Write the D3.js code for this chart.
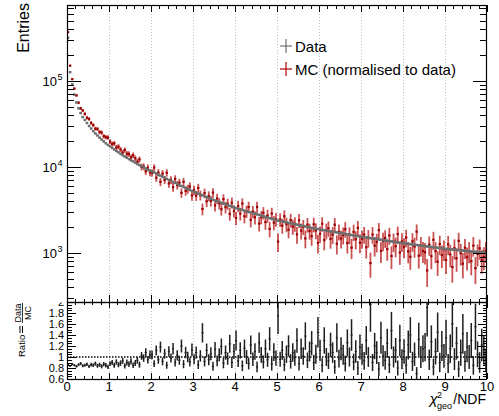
<!DOCTYPE html>
<html>
<head>
<meta charset="utf-8">
<script src="https://cdn.jsdelivr.net/npm/d3@7"></script>
<style>
  body { margin: 0; background: #fff; }
  text { font-family: "Liberation Sans", Arial, sans-serif; fill: #000; }
</style>
</head>
<body>
<svg id="chart" width="499" height="416"></svg>
<script>
// histogram range (chi2_geo/NDF), equal width bins
const binLow = 0;
const binHigh = 10;

// data entries per bin
const dataCounts = [
  316000, 126000, 91200, 69200, 56200, 47900, 42200, 38000, 35100, 32400,
  29900, 27900, 26000, 24500, 23200, 21900, 20800, 19800, 18800, 18000,
  17300, 16600, 15960, 15300, 14800, 14200, 13700, 13200, 12800, 12300,
  11900, 11600, 11200, 10800, 10500, 10200, 9900, 9600, 9300, 9000,
  8890, 8650, 8390, 8170, 7930, 7710, 7500, 7280, 7080, 6890,
  6700, 6520, 6340, 6170, 6010, 5850, 5690, 5550, 5400, 5260,
  5130, 5010, 4900, 4790, 4680, 4570, 4470, 4370, 4270, 4170,
  4080, 4000, 3920, 3840, 3760, 3680, 3610, 3530, 3460, 3390,
  3320, 3270, 3210, 3160, 3100, 3050, 3010, 2960, 2900, 2860,
  2810, 2770, 2720, 2670, 2630, 2590, 2540, 2500, 2460, 2420,
  2380, 2355, 2330, 2300, 2270, 2240, 2220, 2190, 2160, 2140,
  2110, 2090, 2060, 2040, 2010, 1990, 1960, 1940, 1920, 1900,
  1875, 1858, 1837, 1820, 1803, 1786, 1766, 1750, 1734, 1718,
  1698, 1683, 1667, 1652, 1633, 1618, 1603, 1589, 1570, 1556,
  1542, 1528, 1517, 1503, 1489, 1476, 1466, 1452, 1439, 1426,
  1413, 1403, 1390, 1377, 1365, 1355, 1343, 1330, 1318, 1309,
  1297, 1288, 1279, 1268, 1259, 1250, 1242, 1230, 1222, 1213,
  1205, 1194, 1186, 1178, 1169, 1159, 1151, 1143, 1135, 1127,
  1119, 1112, 1107, 1099, 1094, 1086, 1081, 1074, 1069, 1062,
  1057, 1050, 1045, 1038, 1033, 1026, 1021, 1014, 1009, 1002
];

// Data/MC per bin (MC = data / ratio)
const ratioValues = [
  0.86, 0.84, 0.87, 0.85, 0.83, 0.86, 0.88, 0.84, 0.85, 0.87,
  0.83, 0.86, 0.85, 0.88, 0.84, 0.86, 0.83, 0.87, 0.85, 0.82,
  0.88, 0.90, 0.85, 0.91, 0.86, 0.89, 0.93, 0.84, 0.90, 0.87,
  0.92, 0.85, 0.89, 0.94, 0.86, 1.02, 0.98, 1.08, 0.95, 1.04,
  1.04, 0.88, 1.12, 0.95, 1.18, 0.92, 1.06, 0.85, 1.10, 0.98,
  1.15, 0.90, 1.03, 0.94, 1.20, 0.87, 1.08, 1.00, 0.91, 1.13,
  0.96, 1.08, 0.86, 1.02, 1.44, 0.92, 1.12, 0.95, 1.06, 0.83,
  1.14, 0.93, 1.04, 1.19, 0.89, 1.08, 0.97, 1.24, 0.90, 1.10,
  1.30, 0.93, 1.12, 0.84, 1.16, 1.00, 0.88, 1.22, 0.96, 1.10,
  0.82, 1.26, 1.04, 0.91, 1.15, 0.95, 1.33, 0.87, 1.09, 0.98,
  1.75, 0.96, 1.12, 0.86, 1.05, 1.20, 0.92, 1.08, 0.99, 1.30,
  0.88, 1.15, 1.02, 1.38, 0.94, 1.10, 1.25, 0.90, 1.05, 1.45,
  1.12, 0.85, 1.30, 1.00, 0.93, 1.22, 1.08, 0.82, 1.35, 0.97,
  1.15, 1.04, 0.88, 1.26, 1.00, 1.40, 0.91, 1.10, 0.80, 1.18,
  1.05, 0.93, 1.30, 1.00, 1.95, 0.90, 1.20, 1.08, 0.78, 1.35,
  1.02, 0.94, 1.25, 0.86, 1.48, 1.00, 1.12, 0.80, 1.30, 0.96,
  1.10, 0.85, 1.22, 1.40, 0.92, 1.05, 0.70, 1.32, 1.00, 1.15,
  1.18, 1.90, 0.95, 1.28, 0.82, 1.10, 1.45, 0.90, 1.20, 1.02,
  1.35, 0.88, 1.15, 1.60, 0.96, 1.25, 0.78, 1.08, 1.42, 0.92,
  1.18, 1.00, 1.30, 0.85, 1.55, 1.05, 0.90, 1.22, 1.12, 0.95
];

// MC events are weighted: error = sqrt(weight * content)
const mcWeight = 80;

const xTickValues = [0, 1, 2, 3, 4, 5, 6, 7, 8, 9, 10];
const yDecades = [1e3, 1e4, 1e5];
const ratioTickValues = [0.6, 0.8, 1, 1.2, 1.4, 1.6, 1.8, 2];
const legendLabels = ["Data", "MC (normalised to data)"];

const dataColor = "#6e6e6e";
const mcColor = "#9a0000";
const mcErrColor = "rgba(175, 0, 0, 0.68)";

// pad geometry
const left = 67, right = 487;
const mainTop = 5, split = 302, ratioBottom = 379;

const svg = d3.select("#chart");

const x = d3.scaleLinear().domain([binLow, binHigh]).range([left, right]);
const yMain = d3.scaleLog().domain([270, 760000]).range([split, mainTop]);
const yRatio = d3.scaleLinear().domain([0.6, 2.0]).range([ratioBottom, split]);

const binWidth = (binHigh - binLow) / dataCounts.length;
const bins = dataCounts.map((d, i) => {
  const lo = binLow + i * binWidth;
  const r = ratioValues[i];
  const mc = d / r;
  return {
    lo: lo, hi: lo + binWidth, mid: lo + binWidth / 2,
    data: d, dataErr: Math.sqrt(d),
    mc: mc, mcErr: Math.sqrt(mc * mcWeight),
    ratio: r, ratioErr: r * Math.sqrt(1 / d + 0.6 * mcWeight / mc)
  };
});

// clip paths for both pads
const defs = svg.append("defs");
defs.append("clipPath").attr("id", "clip-main")
  .append("rect").attr("x", left).attr("y", mainTop)
  .attr("width", right - left).attr("height", split - mainTop);
defs.append("clipPath").attr("id", "clip-ratio")
  .append("rect").attr("x", left).attr("y", split)
  .attr("width", right - left).attr("height", ratioBottom - split);
defs.append("clipPath").attr("id", "clip-ratio-labels")
  .append("rect").attr("x", 0).attr("y", split + 0.5)
  .attr("width", left).attr("height", 120);

// dotted vertical grid at integer x
const gridX = xTickValues.filter(v => v > binLow && v < binHigh);
svg.append("g").selectAll("line").data(gridX).enter().append("line")
  .attr("x1", d => Math.round(x(d)) + 0.5).attr("x2", d => Math.round(x(d)) + 0.5)
  .attr("y1", mainTop).attr("y2", ratioBottom)
  .attr("stroke", "#bdbdbd").attr("stroke-width", 1)
  .attr("stroke-dasharray", "1,2");

/* ---------------- main pad ---------------- */
const main = svg.append("g").attr("clip-path", "url(#clip-main)");

// MC first, data drawn on top
const mcG = main.append("g");
mcG.selectAll("line.err").data(bins).enter().append("line")
  .attr("class", "err")
  .attr("x1", d => x(d.mid)).attr("x2", d => x(d.mid))
  .attr("y1", d => yMain(Math.max(d.mc - d.mcErr, 1)))
  .attr("y2", d => yMain(d.mc + d.mcErr))
  .attr("stroke", mcErrColor).attr("stroke-width", 1.8);
mcG.selectAll("line.bin").data(bins).enter().append("line")
  .attr("class", "bin")
  .attr("x1", d => x(d.lo)).attr("x2", d => x(d.hi))
  .attr("y1", d => yMain(d.mc)).attr("y2", d => yMain(d.mc))
  .attr("stroke", mcErrColor).attr("stroke-width", 1);
mcG.selectAll("rect").data(bins).enter().append("rect")
  .attr("x", d => x(d.mid) - 1.1).attr("y", d => yMain(d.mc) - 1.1)
  .attr("width", 2.2).attr("height", 2.2)
  .attr("fill", mcColor);

const dataG = main.append("g");
dataG.selectAll("line.err").data(bins).enter().append("line")
  .attr("class", "err")
  .attr("x1", d => x(d.mid)).attr("x2", d => x(d.mid))
  .attr("y1", d => yMain(d.data - d.dataErr))
  .attr("y2", d => yMain(d.data + d.dataErr))
  .attr("stroke", dataColor).attr("stroke-width", 1);
dataG.selectAll("line.bin").data(bins).enter().append("line")
  .attr("class", "bin")
  .attr("x1", d => x(d.lo)).attr("x2", d => x(d.hi))
  .attr("y1", d => yMain(d.data)).attr("y2", d => yMain(d.data))
  .attr("stroke", dataColor).attr("stroke-width", 1.6);
dataG.selectAll("rect").data(bins).enter().append("rect")
  .attr("x", d => x(d.mid) - 1.25).attr("y", d => yMain(d.data) - 1.25)
  .attr("width", 2.5).attr("height", 2.5)
  .attr("fill", dataColor);

/* ---------------- ratio pad ---------------- */
const ratio = svg.append("g").attr("clip-path", "url(#clip-ratio)");

ratio.append("line")
  .attr("x1", left).attr("x2", right)
  .attr("y1", yRatio(1)).attr("y2", yRatio(1))
  .attr("stroke", "#000").attr("stroke-width", 1.3)
  .attr("stroke-dasharray", "1.5,1.5");

ratio.selectAll("line.err").data(bins).enter().append("line")
  .attr("class", "err")
  .attr("x1", d => x(d.mid)).attr("x2", d => x(d.mid))
  .attr("y1", d => yRatio(d.ratio - d.ratioErr))
  .attr("y2", d => yRatio(d.ratio + d.ratioErr))
  .attr("stroke", "#1e1e1e").attr("stroke-width", 1.5);
ratio.selectAll("line.bin").data(bins).enter().append("line")
  .attr("class", "bin")
  .attr("x1", d => x(d.lo)).attr("x2", d => x(d.hi))
  .attr("y1", d => yRatio(d.ratio)).attr("y2", d => yRatio(d.ratio))
  .attr("stroke", "#1e1e1e").attr("stroke-width", 1.2);

/* ---------------- axes (ticks inside, on all sides) ---------------- */
function plain(g) {
  g.select(".domain").remove();
  g.selectAll(".tick line").attr("stroke", "#000").attr("shape-rendering", "crispEdges");
  g.selectAll(".tick text").remove();
}

const xMinor = d3.range(binLow, binHigh + 1e-9, 0.2).filter(v => Math.abs(v - Math.round(v)) > 1e-6);
const yMinor = yMain.ticks().filter(v => !yDecades.includes(v));
const ratioMinor = d3.range(0.6, 2.0001, 0.05).filter(v => !ratioTickValues.some(t => Math.abs(t - v) < 1e-6));

function xTicksAt(yPos, dir, major, minor) {
  // negative tick size points the ticks into the pad
  const mk = dir === "top" ? d3.axisTop : d3.axisBottom;
  svg.append("g").attr("transform", `translate(0,${yPos})`)
    .call(mk(x).tickValues(xTickValues).tickSize(-major).tickSizeOuter(0)).call(plain);
  svg.append("g").attr("transform", `translate(0,${yPos})`)
    .call(mk(x).tickValues(xMinor).tickSize(-minor).tickSizeOuter(0)).call(plain);
}
xTicksAt(mainTop, "top", 7, 3.5);
xTicksAt(split, "bottom", 7, 3.5);
xTicksAt(split, "top", 6, 3);
xTicksAt(ratioBottom, "bottom", 6, 3);

function yTicksAt(scale, xPos, dir, majorVals, minorVals, major, minor) {
  const mk = dir === "left" ? d3.axisLeft : d3.axisRight;
  svg.append("g").attr("transform", `translate(${xPos},0)`)
    .call(mk(scale).tickValues(majorVals).tickSize(-major).tickSizeOuter(0)).call(plain);
  svg.append("g").attr("transform", `translate(${xPos},0)`)
    .call(mk(scale).tickValues(minorVals).tickSize(-minor).tickSizeOuter(0)).call(plain);
}
yTicksAt(yMain, left, "left", yDecades, yMinor, 14, 7);
yTicksAt(yMain, right, "right", yDecades, yMinor, 14, 7);
yTicksAt(yRatio, left, "left", ratioTickValues, ratioMinor, 9, 4.5);
yTicksAt(yRatio, right, "right", ratioTickValues, ratioMinor, 9, 4.5);

// pad frames
svg.append("rect")
  .attr("x", left + 0.5).attr("y", mainTop + 0.5)
  .attr("width", right - left - 1).attr("height", split - mainTop)
  .attr("fill", "none").attr("stroke", "#000").attr("stroke-width", 1.2);
svg.append("rect")
  .attr("x", left + 0.5).attr("y", split + 0.5)
  .attr("width", right - left - 1).attr("height", ratioBottom - split)
  .attr("fill", "none").attr("stroke", "#000").attr("stroke-width", 1.2);

/* ---------------- labels ---------------- */
// log axis labels 10^n
svg.append("g").selectAll("text").data(yDecades).enter().append("text")
  .attr("x", 57).attr("y", d => yMain(d) + 5)
  .attr("text-anchor", "end").attr("font-size", 13)
  .text("10");
svg.append("g").selectAll("text").data(yDecades).enter().append("text")
  .attr("x", 57.5).attr("y", d => yMain(d) - 1)
  .attr("font-size", 9)
  .text(d => Math.round(Math.log10(d)));

svg.append("text")
  .attr("transform", "translate(29,3) rotate(-90)")
  .attr("text-anchor", "end").attr("font-size", 16)
  .text("Entries");

// ratio axis labels (top one is partly hidden by the upper pad)
svg.append("g").attr("clip-path", "url(#clip-ratio-labels)")
  .selectAll("text").data(ratioTickValues).enter().append("text")
  .attr("x", 64).attr("y", d => yRatio(d) + 4)
  .attr("text-anchor", "end").attr("font-size", 11)
  .text(d => d3.format("~g")(d));

// x axis labels
svg.append("g").selectAll("text").data(xTickValues).enter().append("text")
  .attr("x", d => x(d)).attr("y", 391)
  .attr("text-anchor", "middle").attr("font-size", 13)
  .text(d => d);

// x title: chi^2_geo / NDF
const xt = svg.append("g");
xt.append("text").attr("x", 429.5).attr("y", 404).attr("font-size", 15)
  .attr("font-style", "italic").text("\u03c7");
xt.append("text").attr("x", 437).attr("y", 398).attr("font-size", 9).text("2");
xt.append("text").attr("x", 437).attr("y", 408.5).attr("font-size", 9).text("geo");
xt.append("text").attr("x", 486).attr("y", 404).attr("font-size", 14)
  .attr("text-anchor", "end").text("/NDF");

// ratio title: Ratio = Data / MC (rotated)
const rt = svg.append("g").attr("transform", "translate(25,357) rotate(-90)");
rt.append("text").attr("x", 0).attr("y", 0).attr("font-size", 9.5).text("Ratio");
rt.append("line").attr("x1", 24).attr("x2", 31).attr("y1", -2.5).attr("y2", -2.5)
  .attr("stroke", "#000").attr("stroke-width", 1);
rt.append("line").attr("x1", 24).attr("x2", 31).attr("y1", -5).attr("y2", -5)
  .attr("stroke", "#000").attr("stroke-width", 1);
rt.append("text").attr("x", 44).attr("y", -4.5).attr("font-size", 9)
  .attr("text-anchor", "middle").text("Data");
rt.append("line").attr("x1", 34).attr("x2", 54).attr("y1", -2.5).attr("y2", -2.5)
  .attr("stroke", "#000").attr("stroke-width", 0.8);
rt.append("text").attr("x", 44).attr("y", 5.5).attr("font-size", 9)
  .attr("text-anchor", "middle").text("MC");

// legend
const legendColors = [dataColor, "#b00000"];
const leg = svg.append("g").selectAll("g").data(legendLabels).enter().append("g")
  .attr("transform", (d, i) => `translate(286,${46 + i * 23})`);
leg.append("line").attr("x1", -6).attr("x2", 6).attr("y1", 0).attr("y2", 0)
  .attr("stroke", (d, i) => legendColors[i]).attr("stroke-width", 1.2);
leg.append("line").attr("x1", 0).attr("x2", 0).attr("y1", -7).attr("y2", 7)
  .attr("stroke", (d, i) => legendColors[i]).attr("stroke-width", 1.2);
leg.append("text").attr("x", 9).attr("y", 5.5).attr("font-size", 15)
  .text(d => d);
</script>
</body>
</html>
